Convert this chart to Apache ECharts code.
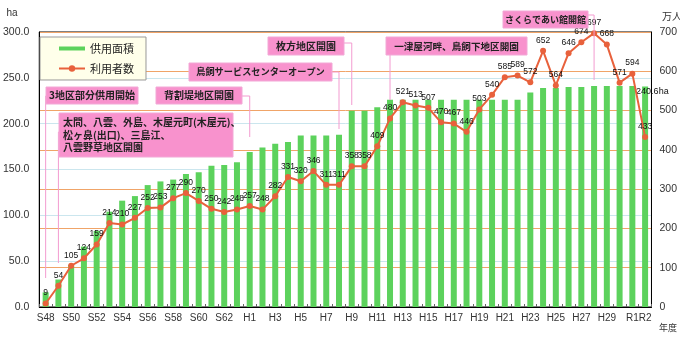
<!DOCTYPE html>
<html><head><meta charset="utf-8">
<script src="https://cdn.jsdelivr.net/npm/echarts@6/dist/echarts.min.js"></script>
<style>html,body{margin:0;padding:0;background:#fff}#c{width:680px;height:338px}</style>
</head><body><div id="c"></div>
<script>
var categories = ['S48','S49','S50','S51','S52','S53','S54','S55','S56','S57','S58','S59','S60','S61','S62','S63',
 'H1','H2','H3','H4','H5','H6','H7','H8','H9','H10','H11','H12','H13','H14','H15','H16','H17','H18','H19','H20',
 'H21','H22','H23','H24','H25','H26','H27','H28','H29','H30','R1','R2'];
var areaHa = [16,30,46,66,83,104,116,121,133,137,139,145,147,154,155,158,
 169,174,178,180,187,187,187,188,214,214,218,226,226,226,226,226,226,226,226,226,
 226,226,234,239,239,240,240,241,241,241,241,240.6];
var users = [9,54,105,124,159,214,210,227,252,253,277,290,270,250,242,248,
 257,248,282,331,320,346,311,311,358,358,409,480,521,513,507,470,467,446,503,540,
 585,589,572,652,564,646,674,697,668,571,594,433];
var leftTicks = [0,50,100,150,200,250,300];
var rightTicks = [0,100,200,300,400,500,600,700];
var annotations = [
 {text:'3地区部分供用開始', cat:'S48'},
 {text:'太間、八雲、外島、木屋元町(木屋元)、\n松ヶ鼻(出口)、三島江、\n八雲野草地区開園', cat:'S49'},
 {text:'背割堤地区開園', cat:'H1'},
 {text:'鳥飼サービスセンターオープン', cat:'H8'},
 {text:'枚方地区開園', cat:'H9'},
 {text:'一津屋河畔、鳥飼下地区開園', cat:'H12'},
 {text:'さくらであい館開館', cat:'H28'}
];

var chart = echarts.init(document.getElementById('c'), null, {renderer:'canvas'});
var FONT = 'Liberation Sans, Arial, sans-serif';
var barData = areaHa.map(function(v,i){
  if (i === areaHa.length-1) return {value:v, label:{show:true, position:[-6,1], formatter:'{c}ha', fontSize:9, color:'#111', fontFamily:FONT}};
  return v;
});
chart.setOption({
  animation:false,
  grid:{left:33,right:28,top:32,bottom:31,show:true,borderColor:'#000',borderWidth:1,backgroundColor:'transparent'},
  legend:{
    left:40, top:37, orient:'vertical', itemGap:9, itemWidth:26, itemHeight:8,
    padding:[6,12,6,18], backgroundColor:'#FFFFEA', borderColor:'#999', borderWidth:1,
    textStyle:{fontSize:11, color:'#222', fontFamily:'Noto Sans CJK JP'},
    data:[{name:'供用面積', icon:'path://M0,0 H26 V4 H0 Z'},{name:'利用者数'}]
  },
  xAxis:{
    type:'category', data:categories, boundaryGap:true,
    axisLine:{lineStyle:{color:'#000'}},
    axisTick:{show:true, inside:true, length:3, interval:0, lineStyle:{color:'#666'}},
    axisLabel:{interval:0, fontSize:10, color:'#333', margin:6, fontFamily:FONT,
      formatter:function(v, i){ return (i%2===0 || i===categories.length-1) ? v : ''; },
      hideOverlap:false},
    splitLine:{show:false}
  },
  yAxis:[
    {type:'value', min:leftTicks[0], max:leftTicks[leftTicks.length-1], interval:50,
     axisLine:{show:true, lineStyle:{color:'#000'}}, axisTick:{show:false},
     axisLabel:{formatter:function(v){return v.toFixed(1);}, fontSize:10.5, color:'#333', margin:10, fontFamily:FONT},
     splitLine:{show:true, lineStyle:{color:'#CBE6EE', width:1}}},
    {type:'value', min:rightTicks[0], max:rightTicks[rightTicks.length-1], interval:100,
     axisLine:{show:true, lineStyle:{color:'#000'}}, axisTick:{show:false},
     axisLabel:{fontSize:10.5, color:'#333', margin:8, fontFamily:FONT},
     splitLine:{show:true, lineStyle:{color:'#F0A468', width:1}}}
  ],
  series:[
    {name:'供用面積', type:'bar', yAxisIndex:0, data:barData, barWidth:6,
     itemStyle:{color:'#5CD25C'}, z:2},
    {name:'利用者数', type:'line', yAxisIndex:1, data:users, symbol:'circle', symbolSize:6,
     lineStyle:{color:'#E8613C', width:2}, itemStyle:{color:'#E8613C'}, z:3,
     label:{show:true, position:'top', distance:3, fontSize:8.5, color:'#111', fontFamily:FONT}}
  ]
});

var boxes = [
  {x:46, y:87, w:92, h:17, lx:'left', ly:96, end:278, fs:10},
  {x:59, y:113, w:174, h:44, lx:'left', ly:132, end:263, fs:10, lh:12.5},
  {x:156, y:87, w:86, h:17, lx:'right', ly:96, end:137, fs:10},
  {x:189, y:63, w:143, h:18, lx:'right', ly:72, end:129, fs:9.2},
  {x:268, y:37, w:76, h:18, lx:'right', ly:43, end:105, fs:10},
  {x:386, y:37, w:141, h:18, lx:'bottom', ly:55, end:100, fs:9.6},
  {x:503, y:11, w:85, h:17, lx:'right', ly:15, end:80, fs:9}
];
var g = [];
var pinkLine = '#F39BD0';
boxes.forEach(function(b,i){
  var a = annotations[i];
  var px = chart.convertToPixel({xAxisIndex:0}, a.cat);
  var pts;
  if (b.lx === 'left') pts = [[b.x,b.ly],[px,b.ly],[px,b.end]];
  else if (b.lx === 'right') pts = [[b.x+b.w,b.ly],[px,b.ly],[px,b.end]];
  else pts = [[px,b.ly],[px,b.end]];
  g.push({type:'polyline', shape:{points:pts}, style:{stroke:pinkLine, lineWidth:1, fill:null}, z:10});
  g.push({type:'rect', shape:{x:b.x,y:b.y,width:b.w,height:b.h}, style:{fill:'#F892CD', stroke:'#F2A8D6', lineWidth:1}, z:11});
  var multi = a.text.indexOf('\n') >= 0;
  g.push({type:'text', z:12,
    x: multi ? b.x+4 : b.x+b.w/2, y: b.y+b.h/2,
    style:{text:a.text, fill:'#222', font:'bold '+b.fs+'px "Noto Sans CJK JP"',
      align: multi ? 'left' : 'center', verticalAlign:'middle', lineHeight:b.lh||b.fs+2}});
});
g.push({type:'text', x:12, y:13, style:{text:'ha', fill:'#333', font:'10px '+FONT, align:'center', verticalAlign:'middle'}});
g.push({type:'text', x:672, y:16, style:{text:'万人', fill:'#333', font:'10px "Noto Sans CJK JP"', align:'center', verticalAlign:'middle'}});
g.push({type:'text', x:668, y:328, style:{text:'年度', fill:'#333', font:'9px "Noto Sans CJK JP"', align:'center', verticalAlign:'middle'}});
chart.setOption({graphic:g});
</script>
</body></html>
